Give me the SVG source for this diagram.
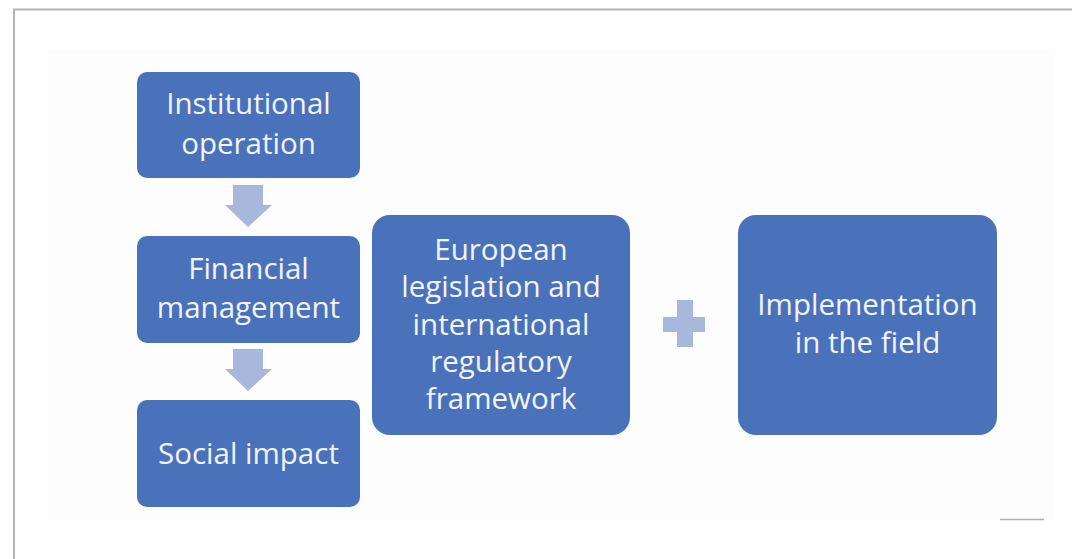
<svg xmlns="http://www.w3.org/2000/svg" width="1072" height="559" viewBox="0 0 1072 559">
<style>
.box{fill:#4a72bb}
.t{font-family:"Open Sans","Noto Sans",sans-serif;font-size:29.5px;fill:#f2f4f8;text-anchor:middle}
.arr{fill:#a8b7dc}
</style>
<rect width="1072" height="559" fill="#ffffff"/>
<path d="M14 559 V9.5 H1072" fill="none" stroke="#b4b4b4" stroke-width="2"/>
<rect x="47" y="50" width="1008" height="471" fill="#fdfdfd"/>
<line x1="1000" y1="519.5" x2="1044" y2="519.5" stroke="#b0b0b0" stroke-width="1.5"/>
<g id="connectors">
<path class="arr" d="M233 185 H263 V205 H272 L248 227 L225 205 H233 Z"/>
<path class="arr" d="M233 349 H263 V369 H272 L248 391 L225 369 H233 Z"/>
<path class="arr" d="M677 300 H693 V317 H705 V332 H693 V347 H677 V332 H663 V317 H677 Z"/>
</g>
<g id="institutional">
<rect class="box" x="137" y="72" width="223" height="106" rx="10"/>
<text class="t" x="248.5" y="114">Institutional</text>
<text class="t" x="248.5" y="154">operation</text>
</g>
<g id="financial">
<rect class="box" x="137" y="236" width="223" height="107" rx="10"/>
<text class="t" x="248.5" y="279">Financial</text>
<text class="t" x="248.5" y="318">management</text>
</g>
<g id="social">
<rect class="box" x="137" y="400" width="223" height="107" rx="10"/>
<text class="t" x="248.5" y="464">Social impact</text>
</g>
<g id="european">
<rect class="box" x="372" y="215" width="258" height="220" rx="18"/>
<text class="t" x="501" y="260">European</text>
<text class="t" x="501" y="297">legislation and</text>
<text class="t" x="501" y="335">international</text>
<text class="t" x="501" y="372">regulatory</text>
<text class="t" x="501" y="409">framework</text>
</g>
<g id="implementation">
<rect class="box" x="738" y="215" width="259" height="220" rx="18"/>
<text class="t" x="867.5" y="315">Implementation</text>
<text class="t" x="867.5" y="353">in the field</text>
</g>
</svg>
